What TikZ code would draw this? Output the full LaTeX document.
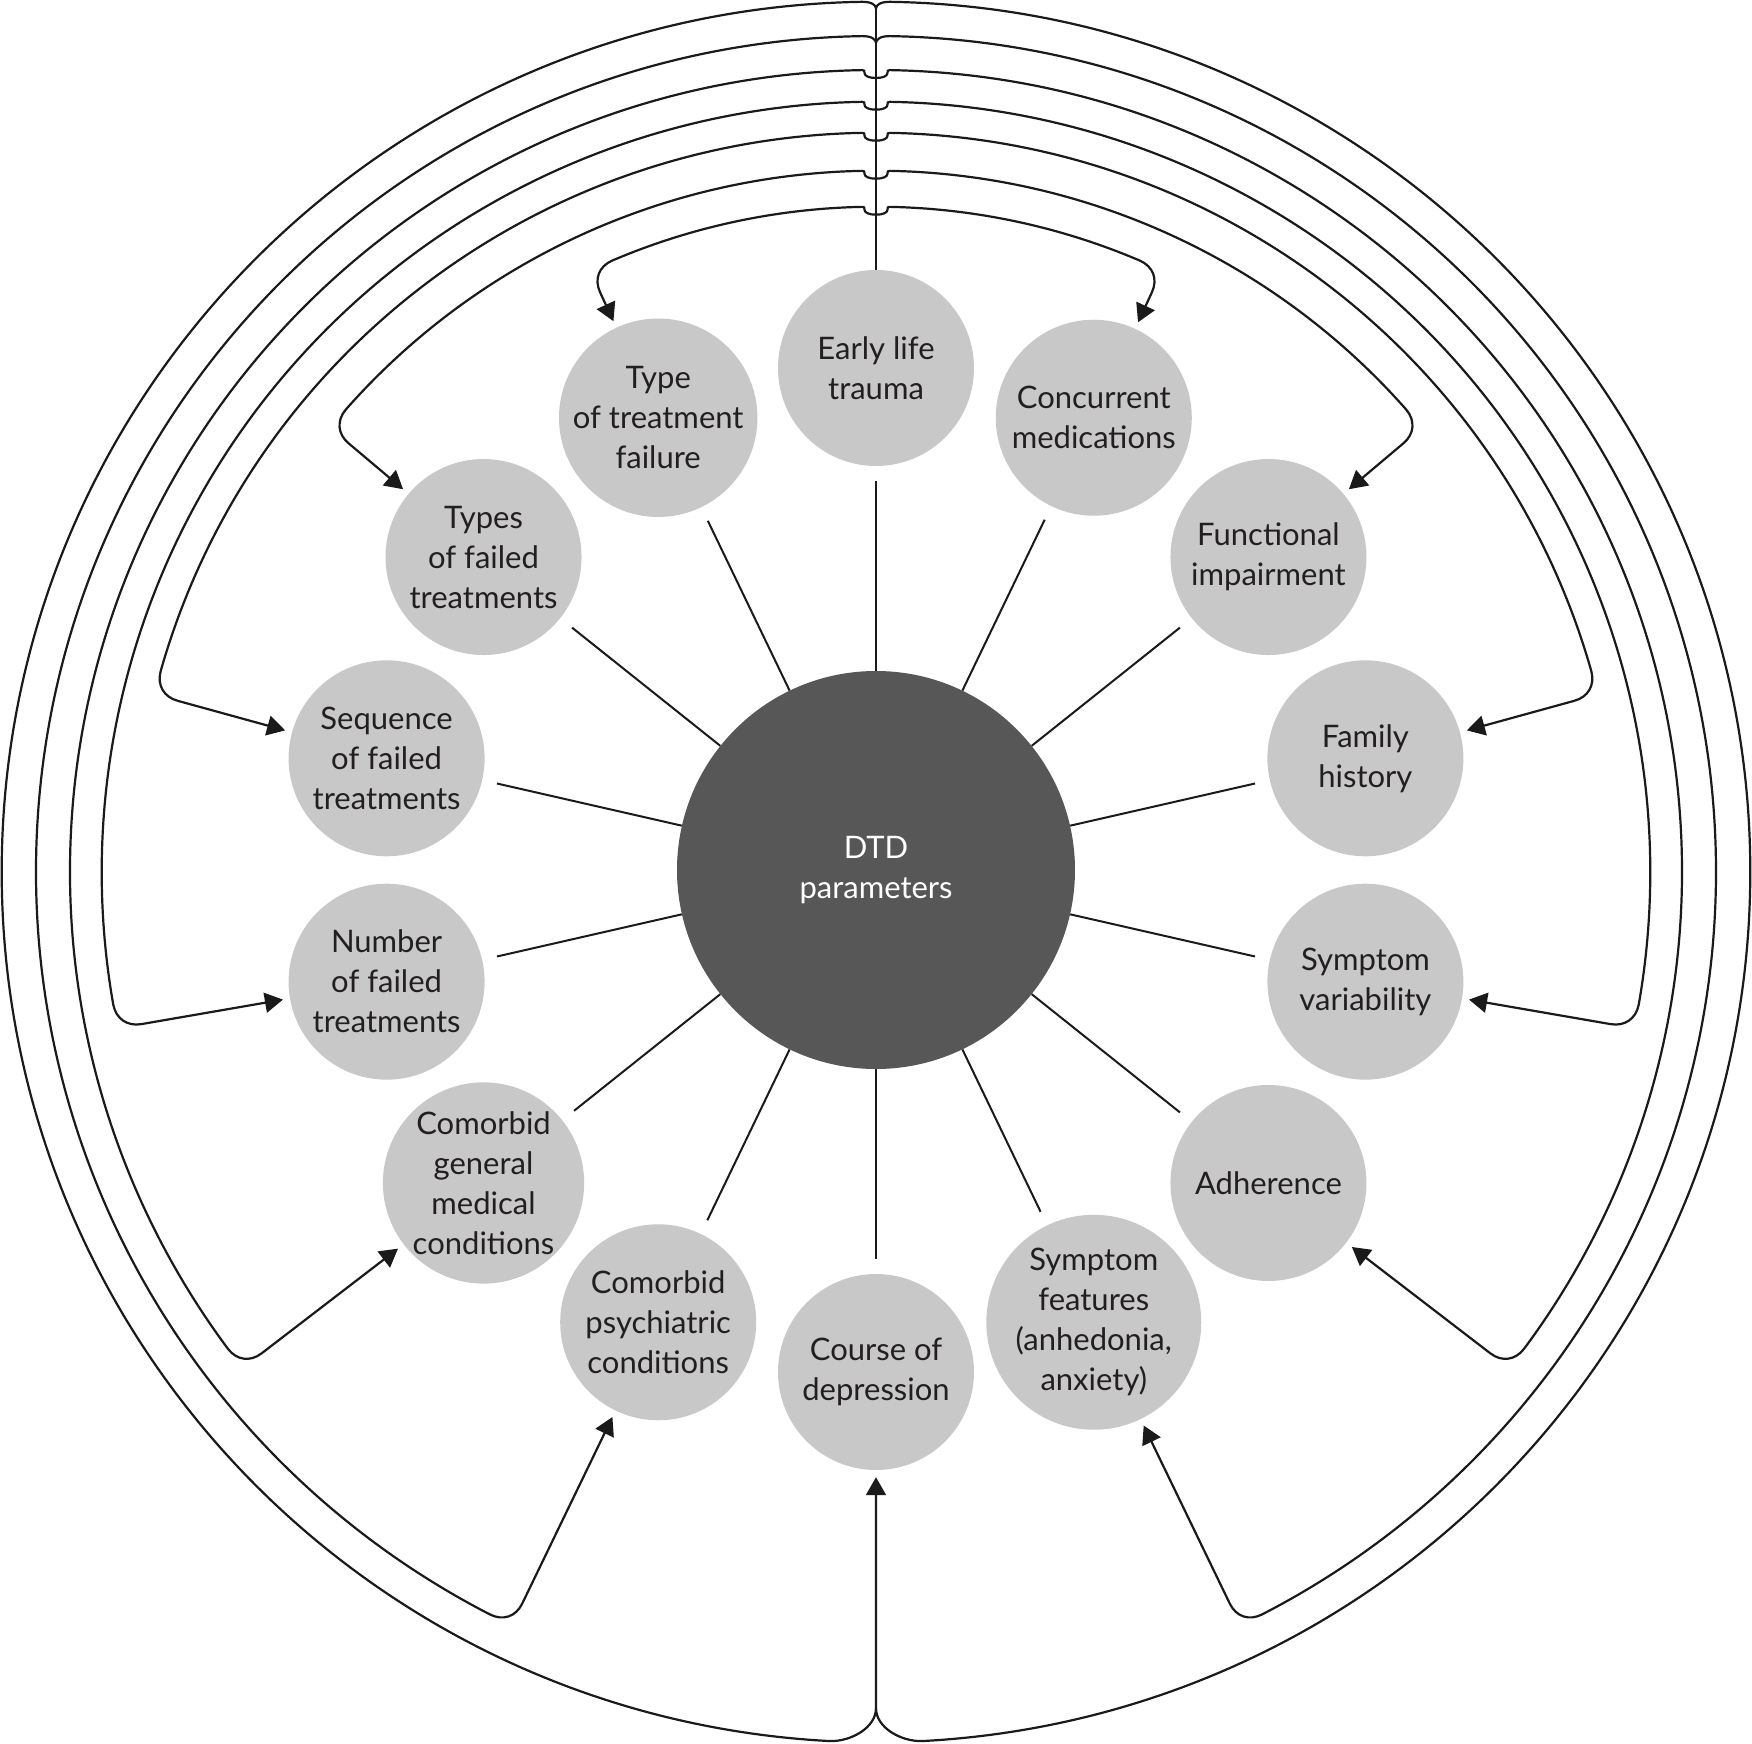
\documentclass[tikz,border=0pt]{standalone}
\usepackage{fontspec}
\setmainfont{Lato}
\usetikzlibrary{arrows.meta,calc}
\definecolor{satfill}{RGB}{200,200,200}
\definecolor{hubfill}{RGB}{87,87,87}
\definecolor{ink}{RGB}{26,26,26}
\definecolor{txt}{RGB}{35,31,32}

% #1 side sign (-1 left, 1 right), #2 x radius, #3 y radius, #4 corner angle (left side), #5 target node
\newcommand{\branchpts}[5]{%
  \coordinate (J#5) at ({90-(#1)*asin(14/#2)}:#2pt and #3pt);
  \coordinate (K#5) at ({90-(#1)*(#4-90)}:#2pt and #3pt);
  \coordinate (A#5) at ({90-(#1)*(#4-90)+(#1)*deg(24/#3)}:#2pt and #3pt);
  \coordinate (P#5) at ($(K#5)!24pt!(#5)$);
}
\newcommand{\branchtail}[5]{%
  arc[start angle={90-(#1)*asin(14/#2)}, end angle={90-(#1)*(#4-90)+(#1)*deg(24/#3)}, x radius=#2pt, y radius=#3pt]
  .. controls ($(A#5)!0.6!(K#5)$) and ($(P#5)!0.6!(K#5)$) .. (P#5) -- (#5)%
}
\newcommand{\branchU}[5]{%
  \branchpts{#1}{#2}{#3}{#4}{#5}
  \draw[conn] (0,{#3-8}) .. controls ({(#1)*7},{#3-8}) and ({(#1)*11.5},{#3-6}) .. ({(#1)*11.5},{#3-3})
    .. controls ({(#1)*11.5},{#3-0.3}) .. (J#5)
    \branchtail{#1}{#2}{#3}{#4}{#5};
}
\newcommand{\branchV}[5]{%
  \branchpts{#1}{#2}{#3}{#4}{#5}
  \draw[conn] (0,{#3-7}) .. controls (0,{#3-3}) and ({(#1)*5},{#3}) .. (J#5)
    \branchtail{#1}{#2}{#3}{#4}{#5};
}

\begin{document}
\begin{tikzpicture}[x=1pt,y=1pt,
  sat/.style={circle, fill=satfill, minimum size=196pt, inner sep=0pt, align=center, text=txt,
    font=\fontsize{31}{40}\selectfont},
  hub/.style={circle, fill=hubfill, minimum size=398pt, inner sep=0pt, align=center, text=white,
    font=\fontsize{31}{40}\selectfont},
  line/.style={draw=ink, line width=2.2pt, line join=round},
  conn/.style={line, -{Triangle[length=18pt,width=20pt]}, shorten >=7pt},
  spoke/.style={draw=ink, line width=2pt, shorten >=15pt}]

\fill[white] (-876,-871) rectangle (876,872);
\useasboundingbox (-876,-871) rectangle (876,872);

\node[hub] (dtd) at (0,2) {DTD\\parameters};

\node[sat] (elt) at ($(0,2)+(90:502)$) {Early life\\trauma};
\node[sat] (ttf) at ($(0,2)+(115.714:502)$) {Type\\of treatment\\failure};
\node[sat] (tft) at ($(0,2)+(141.429:502)$) {Types\\of failed\\treatments};
\node[sat] (sft) at ($(0,2)+(167.143:502)$) {Sequence\\of failed\\treatments};
\node[sat] (nft) at ($(0,2)+(192.857:502)$) {Number\\of failed\\treatments};
\node[sat] (cgm) at ($(0,2)+(218.571:502)$) {Comorbid\\general\\medical\\conditions};
\node[sat] (cpc) at ($(0,2)+(244.286:502)$) {Comorbid\\psychiatric\\conditions};
\node[sat] (cod) at ($(0,2)+(270:502)$) {Course of\\depression};
\node[sat] (sf)  at ($(0,2)+(295.714:502)$) {Symptom\\features\\(anhedonia,\\anxiety)};
\node[sat] (adh) at ($(0,2)+(321.429:502)$) {Adherence};
\node[sat] (sv)  at ($(0,2)+(347.143:502)$) {Symptom\\variability};
\node[sat] (fh)  at ($(0,2)+(12.857:502)$) {Family\\history};
\node[sat] (fi)  at ($(0,2)+(38.571:502)$) {Functional\\impairment};
\node[sat] (cm)  at ($(0,2)+(64.286:502)$) {Concurrent\\medications};

\foreach \n in {elt,ttf,tft,sft,nft,cgm,cpc,cod,sf,adh,sv,fh,fi,cm}
  \draw[spoke] (dtd) -- (\n);

% trunk
\draw[line] (elt) -- (0,863.5);

% level 1 (outermost) to course of depression
\coordinate (J1L) at ({90+asin(14/874.3)}:874.3pt and 870.3pt);
\coordinate (J1R) at ({90-asin(14/874.3)}:874.3pt and 870.3pt);
\coordinate (cusp) at (0,-836.3);
\draw[conn] (0,863.5) .. controls (0,867.3) and (-5,870.3) .. (J1L)
  arc[start angle={90+asin(14/874.3)}, end angle={270-asin(46/874.3)}, x radius=874.3pt, y radius=870.3pt]
  .. controls (-24,-869.5) and (0,-855) .. (cusp) -- (cod);
\draw[line] (0,863.5) .. controls (0,867.3) and (5,870.3) .. (J1R)
  arc[start angle={90-asin(14/874.3)}, end angle={-90+asin(46/874.3)}, x radius=874.3pt, y radius=870.3pt]
  .. controls (24,-869.5) and (0,-855) .. (cusp);

% level 2
\branchV{-1}{840}{836}{244.3}{cpc}
\branchV{1}{840}{836}{244.3}{sf}
% level 3
\branchU{-1}{806}{802}{218.2}{cgm}
\branchU{1}{806}{802}{218.2}{adh}
% level 4
\branchU{-1}{774.3}{770.3}{191.7}{nft}
\branchU{1}{774.3}{770.3}{191.7}{sv}
% level 5
\branchU{-1}{743.3}{739.3}{166.1}{sft}
\branchU{1}{743.3}{739.3}{166.1}{fh}
% level 6
\branchU{-1}{705.3}{701.3}{140.7}{tft}
\branchU{1}{705.3}{701.3}{140.7}{fi}
% level 7
\branchU{-1}{669.3}{665.3}{115.3}{ttf}
\branchU{1}{669.3}{665.3}{115.3}{cm}

\end{tikzpicture}
\end{document}
